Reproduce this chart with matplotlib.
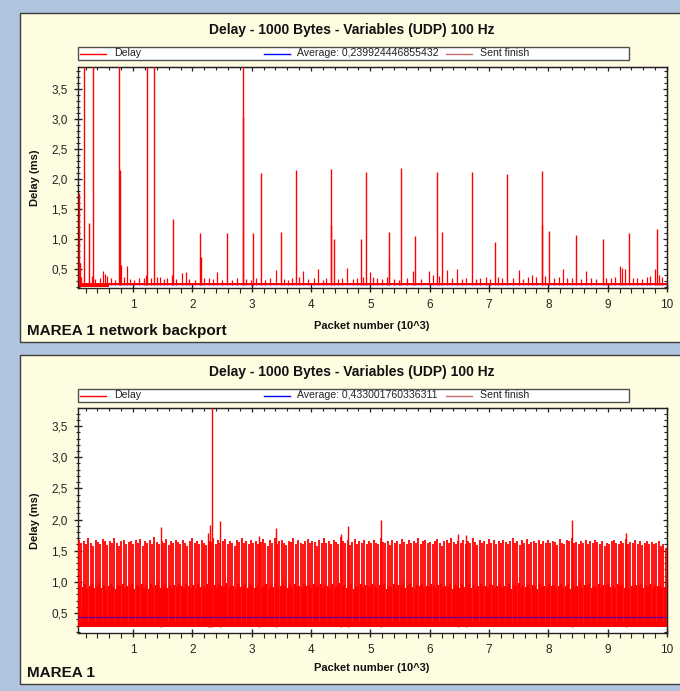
import numpy as np
import matplotlib
matplotlib.use("Agg")
import matplotlib.pyplot as plt
from matplotlib.patches import Rectangle
from matplotlib.lines import Line2D
from matplotlib.ticker import MultipleLocator, FuncFormatter

plt.rcParams['font.family'] = ['Liberation Sans', 'DejaVu Sans']

# ---------------------------------------------------------------- data
TITLE = "Delay - 1000 Bytes - Variables (UDP) 100 Hz"
X_LABEL = "Packet number (10^3)"
Y_LABEL = "Delay (ms)"
LEGEND_NAMES = ["Delay", "Average", "Sent finish"]

# Upper chart: MAREA 1 network backport
top_name = "MAREA 1 network backport"
top_average = 0.239924446855432
top_base_lo, top_base_hi = 0.228, 0.262          # steady delay band (ms)
top_early_end, top_early_lo, top_early_hi = 0.60, 0.205, 0.262
# large delay peaks: packet number (10^3), delay (ms)
top_peak_x = [0.095, 0.10, 0.18, 0.26, 0.33, 0.77, 0.78, 1.23, 1.36, 1.68,
              2.13, 2.14, 2.59, 2.85, 2.86, 3.03, 3.15, 3.49, 3.74, 4.33,
              4.34, 4.395, 4.845, 4.92, 5.31, 5.51, 5.755, 6.12, 6.20, 6.71,
              7.10, 7.30, 7.885, 7.89, 8.01, 8.465, 8.92, 9.36, 9.825]
top_peak_y = [1.77, 0.60, 4.20, 1.27, 4.20, 4.20, 2.15, 4.20, 4.20, 1.33,
              1.09, 0.70, 1.10, 4.20, 3.04, 1.09, 2.10, 1.12, 2.15, 2.17,
              1.23, 1.00, 1.00, 2.12, 1.11, 2.18, 1.05, 2.12, 1.12, 2.12,
              0.94, 2.08, 2.13, 1.23, 1.14, 1.06, 1.00, 1.10, 1.16]
# small delay bumps
top_bump_x = [0.12, 0.30, 0.36, 0.45, 0.49, 0.53, 0.56, 0.62, 0.70, 0.80,
              0.84, 0.89, 0.95, 1.02, 1.10, 1.18, 1.22, 1.30, 1.40, 1.45,
              1.52, 1.58, 1.65, 1.72, 1.82, 1.89, 1.95, 2.05, 2.20, 2.28,
              2.35, 2.42, 2.50, 2.66, 2.75, 2.90, 2.98, 3.08, 3.22, 3.30,
              3.41, 3.55, 3.62, 3.68, 3.80, 3.86, 3.95, 4.05, 4.11, 4.20,
              4.25, 4.45, 4.52, 4.61, 4.70, 4.78, 4.88, 5.00, 5.05, 5.12,
              5.20, 5.28, 5.31, 5.40, 5.48, 5.62, 5.72, 5.85, 5.99, 6.05,
              6.15, 6.30, 6.38, 6.46, 6.55, 6.62, 6.78, 6.85, 6.95, 7.02,
              7.15, 7.22, 7.40, 7.50, 7.58, 7.65, 7.72, 7.80, 7.95, 8.10,
              8.18, 8.24, 8.32, 8.40, 8.55, 8.64, 8.72, 8.80, 8.98, 9.05,
              9.12, 9.20, 9.24, 9.30, 9.42, 9.50, 9.58, 9.66, 9.72, 9.80,
              9.86, 9.92]
top_bump_y = [0.36, 0.38, 0.33, 0.35, 0.46, 0.41, 0.38, 0.34, 0.32, 0.56,
              0.36, 0.54, 0.33, 0.31, 0.34, 0.35, 0.40, 0.34, 0.37, 0.36,
              0.33, 0.34, 0.40, 0.33, 0.43, 0.45, 0.33, 0.32, 0.34, 0.35,
              0.33, 0.45, 0.32, 0.31, 0.34, 0.33, 0.32, 0.34, 0.32, 0.34,
              0.48, 0.33, 0.32, 0.34, 0.36, 0.47, 0.33, 0.34, 0.49, 0.32,
              0.35, 0.33, 0.34, 0.51, 0.33, 0.35, 0.36, 0.45, 0.36, 0.34,
              0.33, 0.36, 0.66, 0.33, 0.32, 0.34, 0.47, 0.33, 0.46, 0.40,
              0.38, 0.48, 0.34, 0.49, 0.33, 0.35, 0.33, 0.34, 0.36, 0.33,
              0.36, 0.34, 0.35, 0.48, 0.33, 0.37, 0.40, 0.36, 0.38, 0.35,
              0.37, 0.49, 0.34, 0.35, 0.33, 0.47, 0.34, 0.33, 0.34, 0.35,
              0.36, 0.55, 0.52, 0.50, 0.34, 0.35, 0.33, 0.36, 0.38, 0.49,
              0.40, 0.36]

# Lower chart: MAREA 1
bot_name = "MAREA 1"
bot_average = 0.433001760336311
bot_base_lo, bot_base_hi = 0.28, 0.36
# regular high delay peaks (ms), in packet order from 0.09 to 9.98 (10^3)
bot_high = [
    1.68, 1.62, 1.66, 1.60, 1.71, 1.63, 1.58, 1.67, 1.64, 1.61, 1.69, 1.65, 1.59,
    1.66, 1.62, 1.70, 1.63, 1.57, 1.65, 1.68, 1.61, 1.64, 1.66, 1.60, 1.67,
    1.63, 1.69, 1.58, 1.65, 1.62, 1.67, 1.61, 1.72, 1.64, 1.60, 1.66, 1.63, 1.69,
    1.59, 1.65, 1.62, 1.68, 1.64, 1.61, 1.67, 1.63, 1.58, 1.66, 1.70, 1.62,
    1.65, 1.61, 1.68, 1.63, 1.59, 1.66, 1.64, 1.71, 1.60, 1.67, 1.62, 1.65, 1.69,
    1.61, 1.66, 1.63, 1.58, 1.67, 1.64, 1.70, 1.62, 1.65, 1.60, 1.68, 1.63,
    1.66, 1.60, 1.64, 1.69, 1.62, 1.58, 1.67, 1.63, 1.71, 1.61, 1.65, 1.68, 1.62,
    1.59, 1.66, 1.64, 1.70, 1.61, 1.67, 1.63, 1.60, 1.65, 1.69, 1.62, 1.66,
    1.64, 1.58, 1.67, 1.62, 1.70, 1.63, 1.66, 1.60, 1.68, 1.64, 1.61, 1.72, 1.65,
    1.62, 1.67, 1.59, 1.64, 1.69, 1.61, 1.66, 1.63, 1.68, 1.60, 1.65, 1.62,
    1.67, 1.63, 1.60, 1.71, 1.64, 1.62, 1.66, 1.59, 1.68, 1.63, 1.65, 1.61, 1.69,
    1.64, 1.60, 1.67, 1.62, 1.66, 1.63, 1.70, 1.61, 1.65, 1.68, 1.62, 1.64,
    1.61, 1.66, 1.69, 1.63, 1.58, 1.65, 1.67, 1.62, 1.70, 1.64, 1.60, 1.66, 1.63,
    1.68, 1.61, 1.65, 1.62, 1.71, 1.64, 1.59, 1.67, 1.63, 1.66, 1.61, 1.69,
    1.63, 1.67, 1.60, 1.65, 1.62, 1.68, 1.64, 1.61, 1.66, 1.70, 1.62, 1.65, 1.59,
    1.67, 1.63, 1.69, 1.61, 1.64, 1.66, 1.62, 1.68, 1.60, 1.65, 1.63, 1.67,
    1.62, 1.66, 1.64, 1.59, 1.69, 1.63, 1.61, 1.67, 1.65, 1.70, 1.62, 1.64, 1.60,
    1.66, 1.63, 1.68, 1.61, 1.65, 1.62, 1.67, 1.64, 1.60, 1.66, 1.58, 1.63,
    1.61, 1.65, 1.68, 1.62, 1.60, 1.66, 1.63, 1.69, 1.61, 1.64, 1.62, 1.67, 1.60,
    1.65, 1.59, 1.63, 1.66, 1.61, 1.64, 1.60, 1.62, 1.65, 1.58, 1.61, 1.55]
# intermediate delay peaks (ms), between the high ones
bot_mid = [
    0.95, 0.92, 0.97, 0.88, 0.94, 0.96, 0.90, 0.93, 0.98, 0.91, 0.95, 0.87, 0.94,
    0.96, 0.92, 0.89, 0.95, 0.93, 0.97, 0.90, 0.94, 0.92, 0.96, 0.88, 0.95,
    0.93, 0.97, 0.91, 0.94, 0.89, 0.96, 0.92, 0.95, 0.98, 0.90, 0.93, 0.96, 0.91,
    0.94, 0.88, 0.95, 0.92, 0.97, 0.93, 0.90, 0.96, 0.94, 0.91, 0.95, 0.89,
    0.96, 0.92, 0.94, 0.90, 0.97, 0.93, 0.88, 0.95, 0.91, 0.96, 0.94, 0.92, 0.98,
    0.90, 0.95, 0.93, 0.89, 0.96, 0.92, 0.94, 0.97, 0.91, 0.95, 0.93, 0.90,
    0.94, 0.96, 0.91, 0.93, 0.97, 0.89, 0.95, 0.92, 0.96, 0.90, 0.94, 0.98, 0.93,
    0.91, 0.95, 0.88, 0.96, 0.92, 0.94, 0.90, 0.97, 0.93, 0.95, 0.91, 0.96,
    0.92, 0.94, 0.97, 0.90, 0.95, 0.93, 0.89, 0.96, 0.91, 0.94, 0.98, 0.92, 0.95,
    0.90, 0.93, 0.96, 0.88, 0.94, 0.92, 0.97, 0.91, 0.95, 0.93, 0.90, 0.96,
    0.94, 0.91, 0.95, 0.93, 0.97, 0.89, 0.94, 0.92, 0.96, 0.90, 0.95, 0.93, 0.98,
    0.91, 0.94, 0.96, 0.92, 0.89, 0.95, 0.93, 0.97, 0.90, 0.94, 0.92, 0.96,
    0.93, 0.90, 0.95, 0.97, 0.91, 0.94, 0.92, 0.96, 0.88, 0.95, 0.93, 0.90, 0.97,
    0.92, 0.94, 0.96, 0.91, 0.95, 0.89, 0.93, 0.97, 0.92, 0.94, 0.90, 0.96,
    0.95, 0.91, 0.93, 0.97, 0.90, 0.94, 0.92, 0.96, 0.89, 0.95, 0.93, 0.98, 0.91,
    0.94, 0.92, 0.96, 0.90, 0.95, 0.93, 0.88, 0.97, 0.92, 0.94, 0.91, 0.96,
    0.93, 0.95, 0.90, 0.94, 0.97, 0.91, 0.93, 0.96, 0.89, 0.95, 0.92, 0.94, 0.98,
    0.90, 0.95, 0.93, 0.96, 0.91, 0.94, 0.92, 0.97, 0.90, 0.95, 0.93, 0.96,
    0.92, 0.94, 0.90, 0.97, 0.93, 0.95, 0.91, 0.96, 0.89, 0.94, 0.92, 0.95, 0.93,
    0.96, 0.90, 0.94, 0.92, 0.97, 0.91, 0.95, 0.93, 0.94, 0.90, 0.92, 0.89]
# outstanding delay peaks: packet number (10^3), delay (ms)
bot_peak_x = [1.47, 2.26, 2.29, 2.33, 2.47, 3.13, 3.41, 4.50, 4.63, 5.18,
              6.48, 6.62, 8.40, 9.31]
bot_peak_y = [1.88, 1.78, 1.92, 3.79, 1.97, 1.74, 1.87, 1.77, 1.90, 2.00,
              1.77, 1.76, 2.00, 1.78]

# ---------------------------------------------------------------- layout
W, H = 680, 691
fig = plt.figure(figsize=(W / 100, H / 100), dpi=100)
fig.patch.set_facecolor('#B0C4DE')

PANEL = '#FFFDE1'
RED = '#FF0000'
BLUE = '#0000FF'
SENT = '#C86B6B'


def fx(px):
    return px / W


def fy(py):
    return 1 - py / H


def comma(v, _pos):
    return f"{v:.1f}".replace('.', ',')


def draw_frame(dy, name, average):
    # yellow panel
    fig.add_artist(Rectangle((fx(20), fy(342 + dy)), fx(700), (329) / H,
                             transform=fig.transFigure, facecolor=PANEL,
                             edgecolor='#3C3C3C', lw=1.0, zorder=0))
    fig.text(fx(352), fy(30 + dy), TITLE, ha='center', va='center',
             fontsize=10, fontweight='bold', color='#111111')
    fig.text(fx(372), fy(326 + dy), X_LABEL, ha='center', va='center',
             fontsize=8, fontweight='bold', color='#111111')
    fig.text(fx(27), fy(331 + dy), name, ha='left', va='center',
             fontsize=11, fontweight='bold', color='#111111')
    # legend strip
    fig.add_artist(Rectangle((fx(78), fy(60 + dy)), fx(551), 13 / H,
                             transform=fig.transFigure, facecolor='white',
                             edgecolor='#505050', lw=1.0, zorder=2))
    ly = fy(53.5 + dy)
    items = [(80, 114, RED, LEGEND_NAMES[0]),
             (264, 297, BLUE,
              f"{LEGEND_NAMES[1]}: " + repr(average).replace('.', ',')),
             (446, 480, SENT, LEGEND_NAMES[2])]
    for x0, xt, col, txt in items:
        fig.add_artist(Line2D([fx(x0), fx(x0 + 26)], [ly, ly],
                              transform=fig.transFigure, color=col, lw=1.0,
                              zorder=3))
        fig.text(fx(xt), ly, txt, ha='left', va='center', fontsize=7.6,
                 color='#222222', zorder=3)


def make_axes(top, bottom, ylim, center):
    ax = fig.add_axes([fx(77.7), fy(bottom), fx(667 - 77.7), (bottom - top) / H])
    ax.set_facecolor('white')
    ax.set_xlim(0.067, 10)
    ax.set_ylim(*ylim)
    ax.xaxis.set_major_locator(MultipleLocator(1))
    ax.xaxis.set_minor_locator(MultipleLocator(0.2))
    ax.yaxis.set_major_locator(MultipleLocator(0.5))
    ax.yaxis.set_minor_locator(MultipleLocator(0.1))
    ax.yaxis.set_major_formatter(FuncFormatter(comma))
    ax.tick_params(axis='x', which='major', direction='inout', length=6,
                   width=1, labelsize=8.5, pad=5, colors='#222222')
    ax.tick_params(axis='x', which='minor', direction='out', length=3.5,
                   width=0.8, colors='#222222')
    ax.tick_params(axis='y', which='major', direction='inout', length=6,
                   width=1, labelsize=8.5, pad=4, colors='#222222')
    ax.tick_params(axis='y', which='minor', direction='inout', length=3,
                   width=0.8, colors='#222222')
    for s in ax.spines.values():
        s.set_color('#222222')
        s.set_linewidth(1.0)
    sx = ax.secondary_xaxis('top')
    sx.xaxis.set_major_locator(MultipleLocator(1))
    sx.xaxis.set_minor_locator(MultipleLocator(0.2))
    sx.tick_params(which='major', direction='in', length=3, width=0.9,
                   labeltop=False, colors='#222222')
    sx.tick_params(which='minor', direction='in', length=2.2, width=0.8,
                   colors='#222222')
    sy = ax.secondary_yaxis('right')
    sy.yaxis.set_major_locator(MultipleLocator(0.5))
    sy.yaxis.set_minor_locator(MultipleLocator(0.1))
    sy.tick_params(which='major', direction='in', length=3, width=0.9,
                   labelright=False, colors='#222222')
    sy.tick_params(which='minor', direction='in', length=2.2, width=0.8,
                   colors='#222222')
    fig.text(fx(35), fy(center), Y_LABEL, rotation=90, ha='center',
             va='center', fontsize=8, fontweight='bold', color='#111111')
    return ax


# ---------------------------------------------------------------- upper chart
draw_frame(0, top_name, top_average)
ax1 = make_axes(67, 288, (0.18, 3.87), 177.5)
ax1.axhline(top_average, color=BLUE, lw=1.0, zorder=1)
ax1.fill_between([0.067, top_early_end], top_early_lo, top_early_hi,
                 color=RED, lw=0, zorder=2)
ax1.fill_between([top_early_end, 10], top_base_lo, top_base_hi,
                 color=RED, lw=0, zorder=2)
ax1.vlines(top_bump_x, top_base_lo, top_bump_y, color=RED, lw=0.9, zorder=3)
ax1.vlines(top_peak_x, top_base_lo, top_peak_y, color=RED, lw=1.0, zorder=3)

# ---------------------------------------------------------------- lower chart
draw_frame(342, bot_name, bot_average)
ax2 = make_axes(408, 633, (0.18, 3.79), 520.5)
hx = np.linspace(0.09, 9.98, len(bot_high))
step = hx[1] - hx[0]
mx = hx + step / 2
ax2.fill_between([0.067, 10], bot_base_lo, bot_base_hi, color=RED, lw=0,
                 zorder=2)
ax2.vlines(hx, bot_base_lo, bot_high, color=RED, lw=1.3, zorder=3)
ax2.vlines(mx[:len(bot_mid)], bot_base_lo, bot_mid, color=RED, lw=1.5,
           zorder=3)
ax2.vlines(bot_peak_x, bot_base_lo, bot_peak_y, color=RED, lw=1.0, zorder=3)
ax2.axhline(bot_average, color=BLUE, lw=1.0, alpha=0.55, zorder=4)

fig.savefig("out.png", dpi=100, facecolor=fig.get_facecolor())
